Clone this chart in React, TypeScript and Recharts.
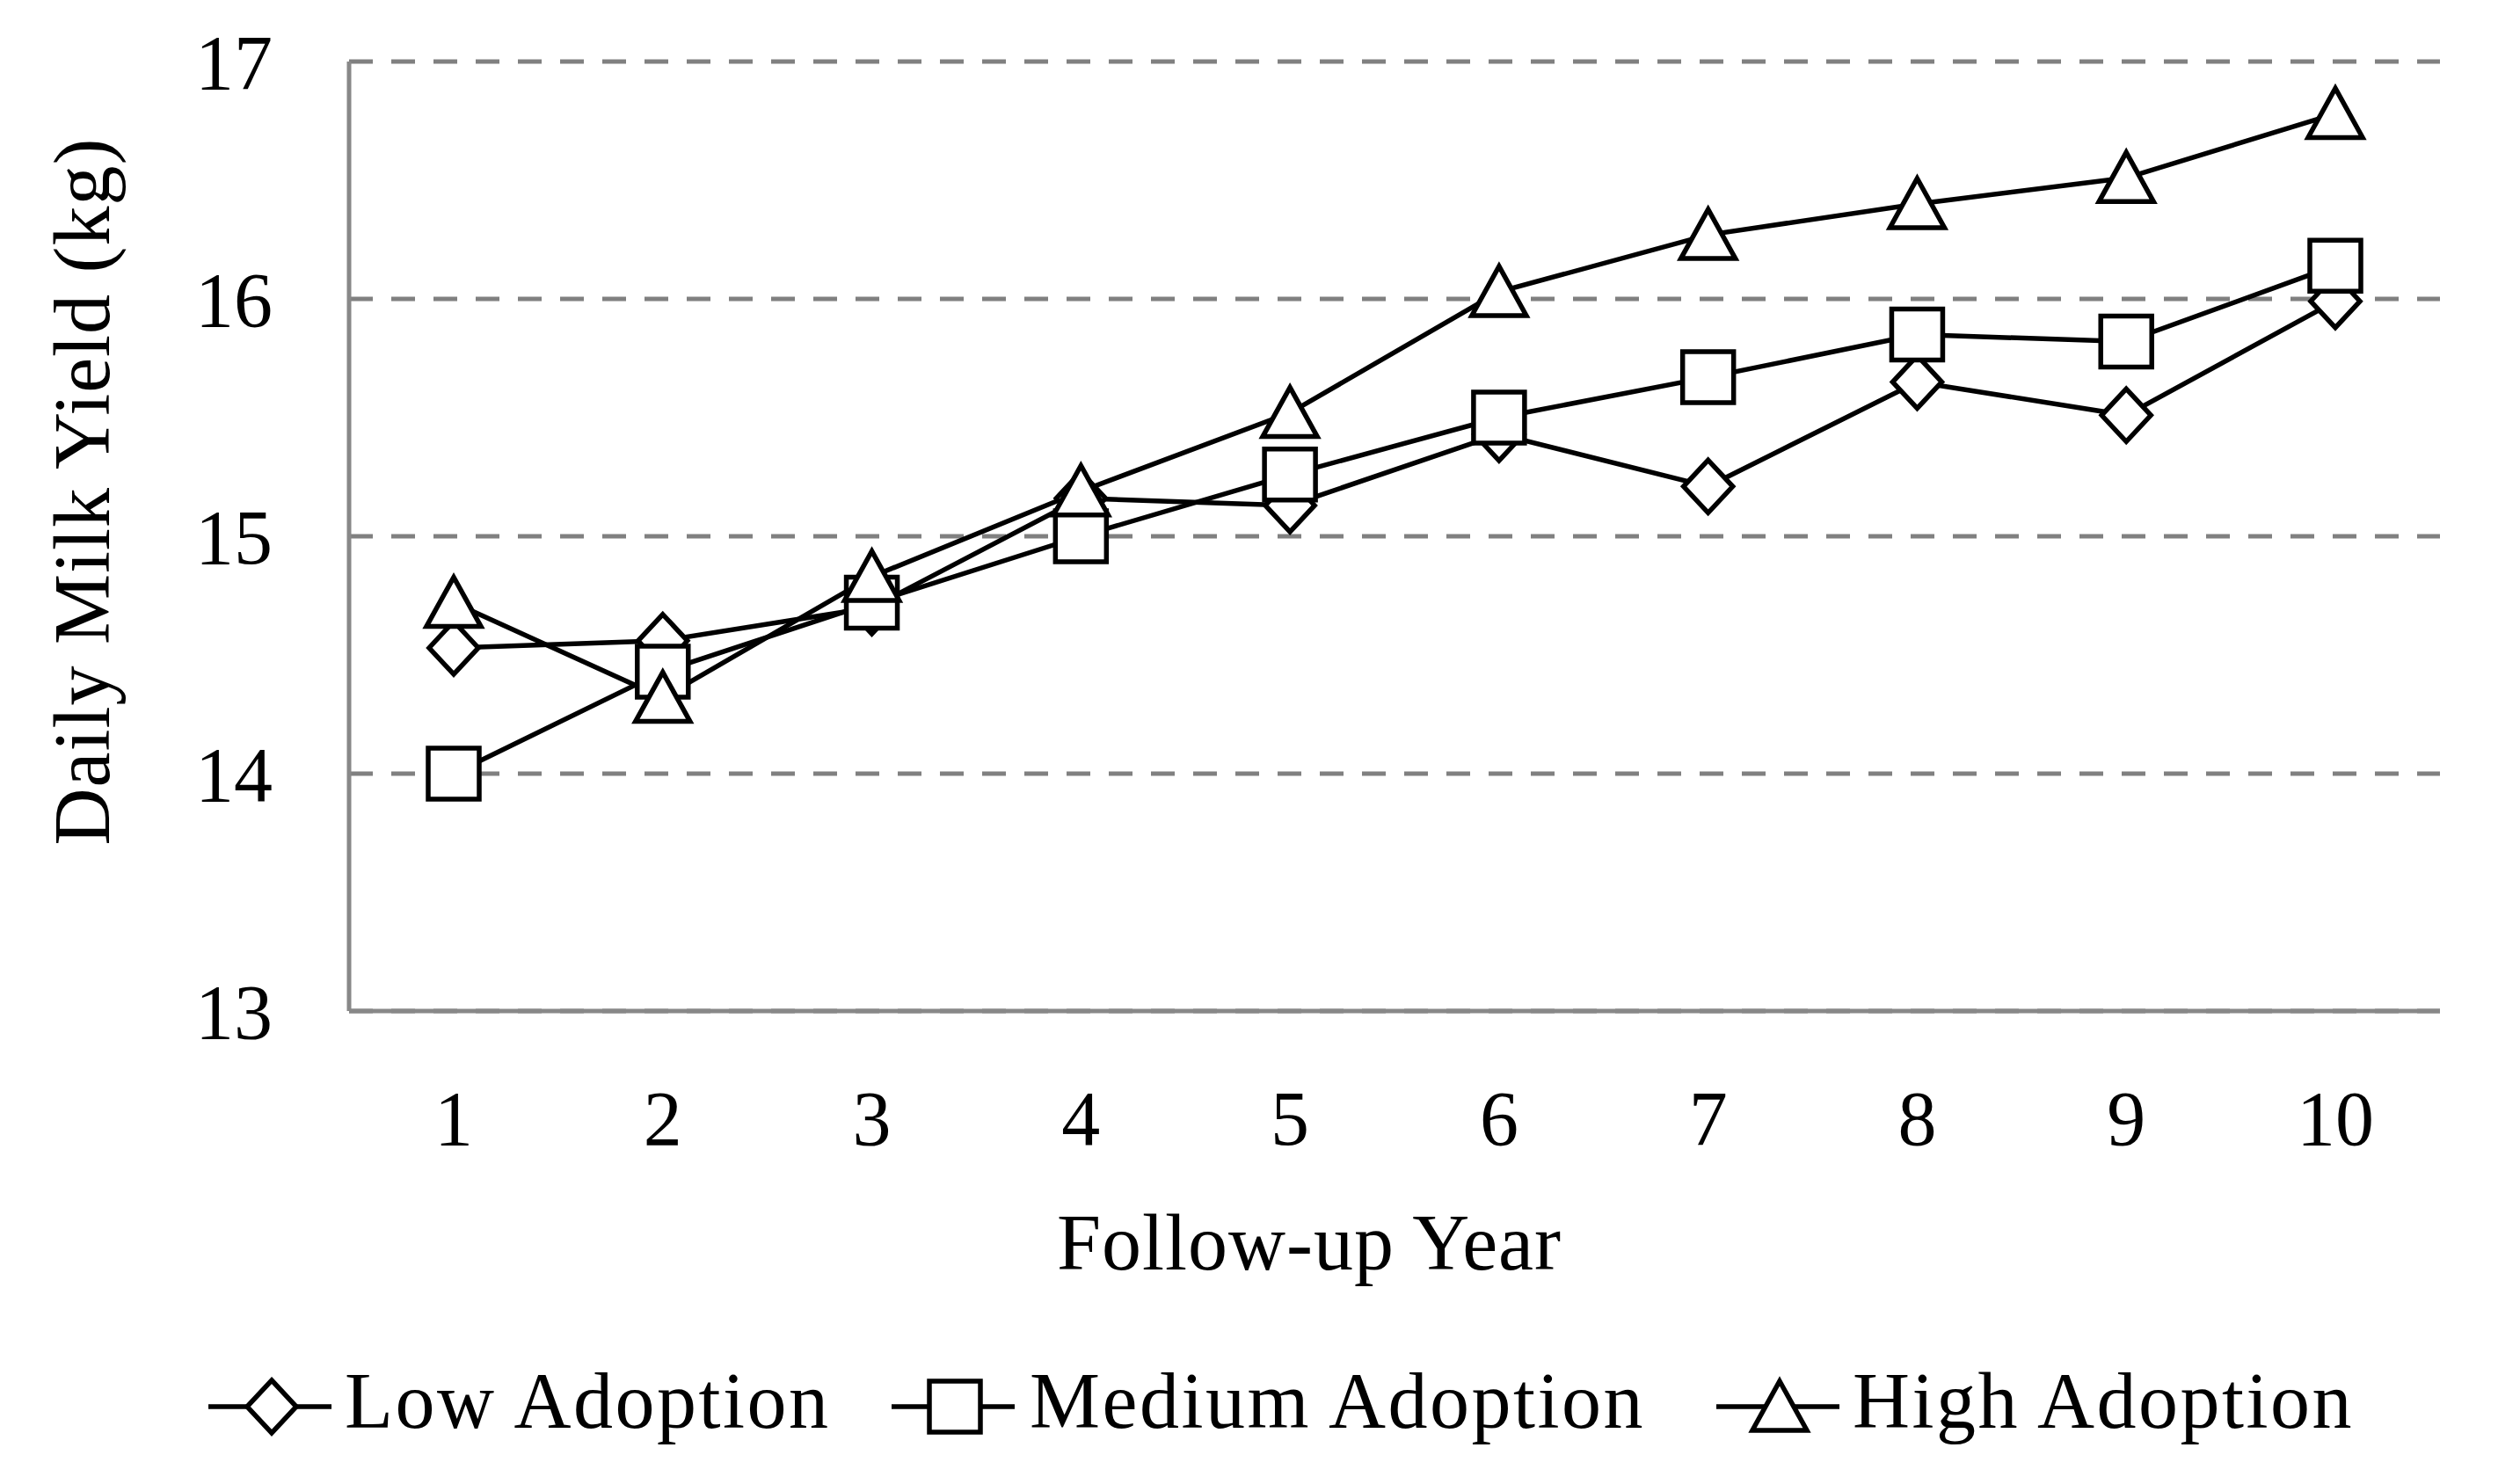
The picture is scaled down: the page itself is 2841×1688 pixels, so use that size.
import React from 'react';
import { LineChart, Line, XAxis, YAxis, CartesianGrid, Legend, Label } from 'recharts';

const years = ['1', '2', '3', '4', '5', '6', '7', '8', '9', '10'];
const lowAdoption = [14.53, 14.56, 14.7, 15.16, 15.13, 15.43, 15.21, 15.65, 15.51, 15.99];
const mediumAdoption = [14.0, 14.43, 14.72, 15.0, 15.26, 15.5, 15.67, 15.85, 15.82, 16.14];
const highAdoption = [14.72, 14.32, 14.83, 15.19, 15.52, 16.03, 16.27, 16.4, 16.51, 16.78];
const yTicks = [13, 14, 15, 16, 17];
const seriesNames = ['Low Adoption', 'Medium Adoption', 'High Adoption'];
const xTitle = 'Follow-up Year';
const yTitle = 'Daily Milk Yield (kg)';

const data = years.map((y, i) => ({
  year: y,
  low: lowAdoption[i],
  medium: mediumAdoption[i],
  high: highAdoption[i],
}));

const FONT = "'Liberation Serif', 'DejaVu Serif', serif";
const SW = 5.5;

function shapePath(kind: number, cx: number, cy: number) {
  if (kind === 0) {
    return `M${cx},${cy - 30} L${cx + 28},${cy} L${cx},${cy + 30} L${cx - 28},${cy} Z`;
  }
  if (kind === 1) {
    return `M${cx - 29},${cy - 29} L${cx + 29},${cy - 29} L${cx + 29},${cy + 29} L${cx - 29},${cy + 29} Z`;
  }
  return `M${cx},${cy - 29} L${cx + 31},${cy + 27} L${cx - 31},${cy + 27} Z`;
}

function makeDot(kind: number) {
  return (props: any) => {
    const { cx, cy, index } = props;
    if (cx == null || cy == null) return <g key={`d${kind}-${index}`} />;
    return (
      <path
        key={`d${kind}-${index}`}
        d={shapePath(kind, cx, cy)}
        fill="#ffffff"
        stroke="#000000"
        strokeWidth={SW}
        strokeLinejoin="miter"
      />
    );
  };
}

const legendPos = [
  { line: 237, text: 392 },
  { line: 1014, text: 1171 },
  { line: 1952, text: 2107 },
];

function renderLegend(props: any) {
  const payload = props.payload || [];
  return (
    <div style={{ position: 'relative', width: 2841, height: 110 }}>
      {payload.map((entry: any) => {
        const i = Math.max(0, seriesNames.indexOf(entry.value));
        return (
          <React.Fragment key={`lg${i}`}>
            <svg
              width={140}
              height={110}
              style={{ position: 'absolute', left: legendPos[i].line, top: 0, overflow: 'visible' }}
            >
              <line x1={0} y1={55} x2={140} y2={55} stroke="#000" strokeWidth={SW} />
              <path d={shapePath(i, 72, 55)} fill="#fff" stroke="#000" strokeWidth={SW} />
            </svg>
            <span
              style={{
                position: 'absolute',
                left: legendPos[i].text,
                top: -6,
                lineHeight: '110px',
                fontSize: 90,
                fontFamily: FONT,
                color: '#000',
                whiteSpace: 'nowrap',
                letterSpacing: 2.5,
              }}
            >
              {entry.value}
            </span>
          </React.Fragment>
        );
      })}
    </div>
  );
}

export default function App() {
  return (
    <div style={{ position: 'absolute', left: 0, top: 0, width: 2841, height: 1688, background: '#fff' }}>
      <LineChart
        width={2841}
        height={1688}
        data={data}
        margin={{ top: 70, right: 66, bottom: 438, left: 0 }}
      >
        <CartesianGrid
          vertical={false}
          stroke="#808080"
          strokeWidth={5}
          strokeDasharray="27 21"
        />
        <XAxis
          dataKey="year"
          type="category"
          height={100}
          padding={{ left: 119, right: 119 }}
          axisLine={{ stroke: '#888888', strokeWidth: 5 }}
          tickLine={false}
          tickSize={0}
          tickMargin={90}
          tick={{ fill: '#000', fontSize: 88, fontFamily: FONT }}
          interval={0}
        >
          <Label
            content={() => (
              <text x={1489} y={1444} textAnchor="middle" fontSize={90} fontFamily={FONT} fill="#000" letterSpacing={1}>
                {xTitle}
              </text>
            )}
          />
        </XAxis>
        <YAxis
          type="number"
          domain={[13, 17]}
          ticks={yTicks}
          width={397}
          axisLine={{ stroke: '#888888', strokeWidth: 5 }}
          tickLine={false}
          tickSize={0}
          tickMargin={87}
          tick={{ fill: '#000', fontSize: 88, fontFamily: FONT }}
          interval={0}
        >
          <Label
            content={() => (
              <text
                x={124}
                y={559}
                transform="rotate(-90, 124, 559)"
                textAnchor="middle"
                fontSize={90}
                fontFamily={FONT}
                fill="#000"
                letterSpacing={1}
              >
                {yTitle}
              </text>
            )}
          />
        </YAxis>
        <Legend
          layout="vertical"
          verticalAlign="middle"
          align="center"
          itemSorter={null as any}
          content={renderLegend}
          wrapperStyle={{ position: 'absolute', left: 0, top: 1545, width: 2841, height: 110 }}
        />
        <Line
          dataKey="low"
          name={seriesNames[0]}
          stroke="#000"
          strokeWidth={SW}
          dot={makeDot(0)}
          activeDot={false}
          isAnimationActive={false}
        />
        <Line
          dataKey="medium"
          name={seriesNames[1]}
          stroke="#000"
          strokeWidth={SW}
          dot={makeDot(1)}
          activeDot={false}
          isAnimationActive={false}
        />
        <Line
          dataKey="high"
          name={seriesNames[2]}
          stroke="#000"
          strokeWidth={SW}
          dot={makeDot(2)}
          activeDot={false}
          isAnimationActive={false}
        />
      </LineChart>
    </div>
  );
}
